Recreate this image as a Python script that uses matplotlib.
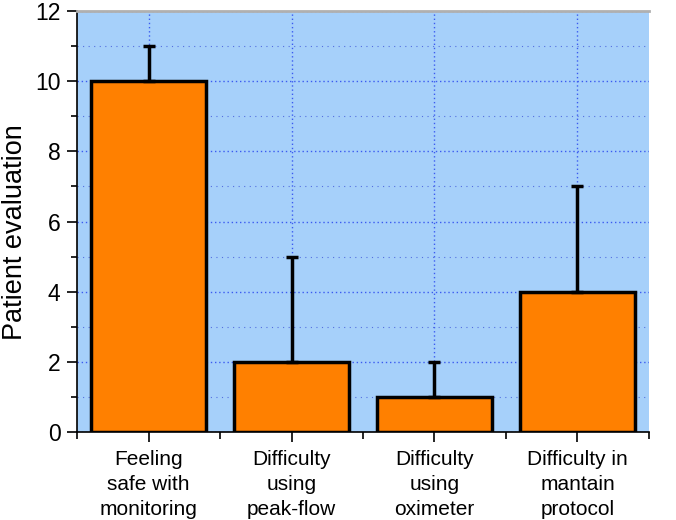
import matplotlib.pyplot as plt
from matplotlib.ticker import MultipleLocator, FixedLocator
import numpy as np

categories = ["Feeling\nsafe with\nmonitoring", "Difficulty\nusing\npeak-flow",
              "Difficulty\nusing\noximeter", "Difficulty in\nmantain\nprotocol"]
values = [10, 2, 1, 4]
errors_up = [1, 3, 1, 3]

plt.rcParams['font.family'] = ['Liberation Sans', 'DejaVu Sans']

fig = plt.figure(figsize=(6.76, 5.2), dpi=100)
ax = fig.add_axes([0.114, 0.169, 0.846, 0.81])
ax.set_facecolor("#a6d0fa")

x = np.arange(len(categories))
ax.bar(x, values, width=0.8, color="#ff8000", edgecolor="black", linewidth=2.5, zorder=3)
ax.errorbar(x, values, yerr=[np.zeros(len(values)), errors_up], fmt='none',
            ecolor="black", elinewidth=2.5, capsize=4, capthick=2.5, zorder=4)

ax.set_xlim(-0.5, len(categories) - 0.5)
ax.set_ylim(0, 12)
ax.yaxis.set_major_locator(MultipleLocator(2))
ax.yaxis.set_minor_locator(MultipleLocator(1))
ax.set_xticks(x)
ax.set_xticklabels(categories, fontsize=15, linespacing=1.4)
ax.xaxis.set_minor_locator(FixedLocator(np.arange(-0.5, len(categories), 1)))
ax.tick_params(axis='y', which='major', labelsize=16.5, length=7, width=1.2, direction='out', pad=5)
ax.tick_params(axis='y', which='minor', length=4, width=1.2, direction='out')
ax.tick_params(axis='x', which='major', length=7, width=1.2, direction='out', pad=6)
ax.tick_params(axis='x', which='minor', length=5, width=1.2, direction='out')

ax.grid(True, which='major', color="#3b5bf0", linestyle=(0, (1, 2)), linewidth=1.0, zorder=1)
ax.grid(True, which='minor', axis='y', color="#5470e0", linestyle=(0, (1, 4)), linewidth=0.8, zorder=1)
ax.set_axisbelow(True)

ax.spines['right'].set_visible(False)
ax.spines['top'].set_color("#b0b0b0")
ax.spines['top'].set_linewidth(2)
ax.spines['left'].set_linewidth(1.2)
ax.spines['bottom'].set_linewidth(1.2)

ax.set_ylabel("Patient evaluation", fontsize=19.5)
ax.yaxis.set_label_coords(-0.085, 0.475)

fig.savefig("out.png", dpi=100)
